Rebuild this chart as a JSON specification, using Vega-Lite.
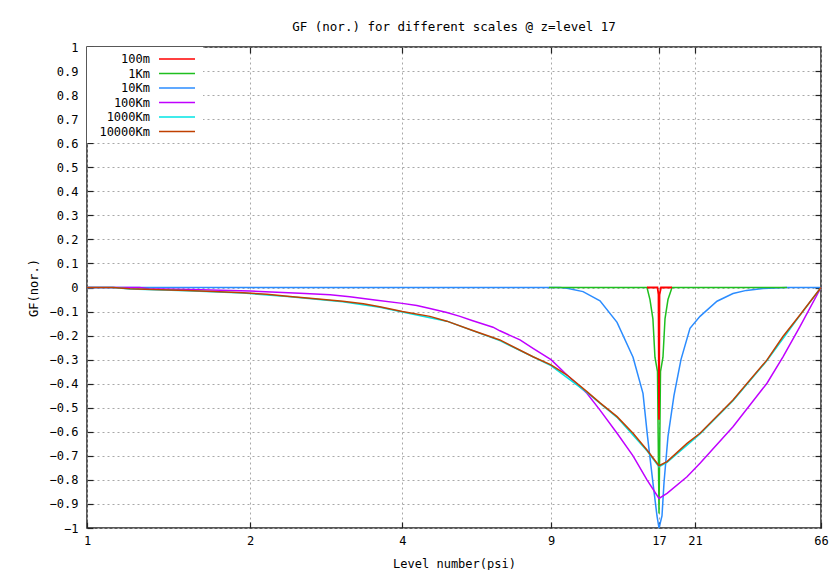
{
  "$schema": "https://vega.github.io/schema/vega-lite/v6.json",
  "width": 734,
  "height": 481,
  "autosize": {"type": "none"},
  "padding": {"left": 87, "top": 47, "right": 19, "bottom": 42},
  "background": "white",
  "title": {"text": "GF (nor.) for different scales @ z=level 17", "font": "DejaVu Sans Mono", "fontSize": 12.5, "fontWeight": "normal", "color": "#000", "anchor": "middle", "offset": 8},
  "datasets": {
    "curves": [
      {"s": "10Km", "x": 1, "y": 0}, {"s": "10Km", "x": 9.49, "y": 0}, {"s": "10Km", "x": 9.89, "y": -0.003}, {"s": "10Km", "x": 10.87, "y": -0.017}, {"s": "10Km", "x": 12.01, "y": -0.055}, {"s": "10Km", "x": 13.28, "y": -0.145}, {"s": "10Km", "x": 14.59, "y": -0.29}, {"s": "10Km", "x": 15.47, "y": -0.44}, {"s": "10Km", "x": 15.89, "y": -0.62}, {"s": "10Km", "x": 16.4, "y": -0.81}, {"s": "10Km", "x": 16.8, "y": -0.95}, {"s": "10Km", "x": 17, "y": -1}, {"s": "10Km", "x": 17.3, "y": -0.95}, {"s": "10Km", "x": 17.51, "y": -0.81}, {"s": "10Km", "x": 17.92, "y": -0.62}, {"s": "10Km", "x": 18.56, "y": -0.45}, {"s": "10Km", "x": 19.34, "y": -0.3}, {"s": "10Km", "x": 20.39, "y": -0.17}, {"s": "10Km", "x": 21.98, "y": -0.12}, {"s": "10Km", "x": 25.65, "y": -0.057}, {"s": "10Km", "x": 29.66, "y": -0.025}, {"s": "10Km", "x": 33.5, "y": -0.012}, {"s": "10Km", "x": 38.96, "y": -0.004}, {"s": "10Km", "x": 48.45, "y": 0}, {"s": "10Km", "x": 66, "y": 0},
      {"s": "1Km", "x": 8.9, "y": 0}, {"s": "1Km", "x": 15.84, "y": 0}, {"s": "1Km", "x": 16.12, "y": -0.05}, {"s": "1Km", "x": 16.4, "y": -0.13}, {"s": "1Km", "x": 16.6, "y": -0.29}, {"s": "1Km", "x": 16.85, "y": -0.35}, {"s": "1Km", "x": 17, "y": -0.94}, {"s": "1Km", "x": 17.15, "y": -0.35}, {"s": "1Km", "x": 17.4, "y": -0.29}, {"s": "1Km", "x": 17.61, "y": -0.13}, {"s": "1Km", "x": 17.92, "y": -0.05}, {"s": "1Km", "x": 18.35, "y": 0}, {"s": "1Km", "x": 48.45, "y": 0},
      {"s": "100m", "x": 15.84, "y": 0}, {"s": "100m", "x": 16.85, "y": 0}, {"s": "100m", "x": 16.95, "y": -0.03}, {"s": "100m", "x": 17, "y": -0.55}, {"s": "100m", "x": 17.05, "y": -0.03}, {"s": "100m", "x": 17.2, "y": 0}, {"s": "100m", "x": 18.35, "y": 0},
      {"s": "100Km", "x": 1, "y": 0}, {"s": "100Km", "x": 1.25, "y": 0}, {"s": "100Km", "x": 1.3, "y": -0.005}, {"s": "100Km", "x": 1.62, "y": -0.009}, {"s": "100Km", "x": 2, "y": -0.015}, {"s": "100Km", "x": 2.51, "y": -0.024}, {"s": "100Km", "x": 2.88, "y": -0.03}, {"s": "100Km", "x": 3.15, "y": -0.038}, {"s": "100Km", "x": 3.53, "y": -0.052}, {"s": "100Km", "x": 4, "y": -0.066}, {"s": "100Km", "x": 4.33, "y": -0.075}, {"s": "100Km", "x": 4.65, "y": -0.087}, {"s": "100Km", "x": 5.1, "y": -0.104}, {"s": "100Km", "x": 5.48, "y": -0.12}, {"s": "100Km", "x": 5.85, "y": -0.137}, {"s": "100Km", "x": 6.56, "y": -0.165}, {"s": "100Km", "x": 6.81, "y": -0.18}, {"s": "100Km", "x": 7.6, "y": -0.218}, {"s": "100Km", "x": 8.16, "y": -0.253}, {"s": "100Km", "x": 9, "y": -0.3}, {"s": "100Km", "x": 9.89, "y": -0.364}, {"s": "100Km", "x": 11.12, "y": -0.44}, {"s": "100Km", "x": 12.01, "y": -0.51}, {"s": "100Km", "x": 13.28, "y": -0.606}, {"s": "100Km", "x": 14.59, "y": -0.7}, {"s": "100Km", "x": 15.84, "y": -0.8}, {"s": "100Km", "x": 17, "y": -0.877}, {"s": "100Km", "x": 17.82, "y": -0.856}, {"s": "100Km", "x": 20.04, "y": -0.787}, {"s": "100Km", "x": 21.98, "y": -0.731}, {"s": "100Km", "x": 29.66, "y": -0.579}, {"s": "100Km", "x": 40.4, "y": -0.398}, {"s": "100Km", "x": 46.72, "y": -0.288}, {"s": "100Km", "x": 54.5, "y": -0.163}, {"s": "100Km", "x": 66, "y": 0},
      {"s": "1000Km", "x": 1, "y": 0}, {"s": "1000Km", "x": 1.117, "y": 0}, {"s": "1000Km", "x": 1.2, "y": -0.006}, {"s": "1000Km", "x": 1.53, "y": -0.013}, {"s": "1000Km", "x": 1.94, "y": -0.023}, {"s": "1000Km", "x": 2.37, "y": -0.037}, {"s": "1000Km", "x": 3.05, "y": -0.059}, {"s": "1000Km", "x": 3.61, "y": -0.082}, {"s": "1000Km", "x": 4, "y": -0.102}, {"s": "1000Km", "x": 5.1, "y": -0.14}, {"s": "1000Km", "x": 6.81, "y": -0.221}, {"s": "1000Km", "x": 9, "y": -0.325}, {"s": "1000Km", "x": 11.12, "y": -0.436}, {"s": "1000Km", "x": 13.28, "y": -0.54}, {"s": "1000Km", "x": 15.84, "y": -0.679}, {"s": "1000Km", "x": 17, "y": -0.745}, {"s": "1000Km", "x": 17.82, "y": -0.727}, {"s": "1000Km", "x": 21.98, "y": -0.609}, {"s": "1000Km", "x": 29.66, "y": -0.471}, {"s": "1000Km", "x": 40.4, "y": -0.304}, {"s": "1000Km", "x": 54.5, "y": -0.116}, {"s": "1000Km", "x": 66, "y": 0},
      {"s": "10000Km", "x": 1, "y": 0}, {"s": "10000Km", "x": 1.117, "y": 0}, {"s": "10000Km", "x": 1.2, "y": -0.005}, {"s": "10000Km", "x": 1.324, "y": -0.008}, {"s": "10000Km", "x": 1.53, "y": -0.012}, {"s": "10000Km", "x": 1.71, "y": -0.017}, {"s": "10000Km", "x": 1.94, "y": -0.022}, {"s": "10000Km", "x": 2.16, "y": -0.028}, {"s": "10000Km", "x": 2.37, "y": -0.036}, {"s": "10000Km", "x": 2.66, "y": -0.046}, {"s": "10000Km", "x": 3.05, "y": -0.057}, {"s": "10000Km", "x": 3.35, "y": -0.068}, {"s": "10000Km", "x": 3.61, "y": -0.08}, {"s": "10000Km", "x": 4, "y": -0.1}, {"s": "10000Km", "x": 4.65, "y": -0.12}, {"s": "10000Km", "x": 5.1, "y": -0.14}, {"s": "10000Km", "x": 5.85, "y": -0.178}, {"s": "10000Km", "x": 6.81, "y": -0.218}, {"s": "10000Km", "x": 8.16, "y": -0.288}, {"s": "10000Km", "x": 9, "y": -0.322}, {"s": "10000Km", "x": 9.89, "y": -0.364}, {"s": "10000Km", "x": 11.12, "y": -0.433}, {"s": "10000Km", "x": 12.01, "y": -0.48}, {"s": "10000Km", "x": 13.28, "y": -0.537}, {"s": "10000Km", "x": 14.59, "y": -0.606}, {"s": "10000Km", "x": 15.84, "y": -0.676}, {"s": "10000Km", "x": 17, "y": -0.741}, {"s": "10000Km", "x": 17.82, "y": -0.724}, {"s": "10000Km", "x": 20.04, "y": -0.648}, {"s": "10000Km", "x": 21.98, "y": -0.606}, {"s": "10000Km", "x": 29.66, "y": -0.468}, {"s": "10000Km", "x": 40.4, "y": -0.301}, {"s": "10000Km", "x": 46.72, "y": -0.204}, {"s": "10000Km", "x": 54.5, "y": -0.114}, {"s": "10000Km", "x": 66, "y": 0}
    ]
  },
  "data": {"name": "curves"},
  "layer": [
    {
      "encoding": {
        "x": {"field": "x", "type": "quantitative",
          "scale": {"type": "log", "domain": [1, 2, 4, 9, 17, 21, 66], "range": [0, 163, 315.3, 464, 572, 608, 734], "nice": false},
          "axis": {"title": "Level number(psi)", "values": [1, 2, 4, 9, 17, 21, 66], "format": "d", "labelFlush": false, "labelOverlap": false, "grid": true, "domain": false, "tickSize": -6, "labelPadding": 13, "titlePadding": 12}},
        "y": {"field": "y", "type": "quantitative",
          "scale": {"domain": [-1, 1], "nice": false, "zero": false},
          "axis": {"title": "GF(nor.)", "values": [-1, -0.9, -0.8, -0.7, -0.6, -0.5, -0.4, -0.3, -0.2, -0.1, 0, 0.1, 0.2, 0.3, 0.4, 0.5, 0.6, 0.7, 0.8, 0.9, 1], "format": ".1~f", "grid": true, "domain": false, "tickSize": -6, "labelPadding": 15, "titlePadding": 9}},
        "color": {"field": "s", "type": "nominal",
          "scale": {"domain": ["100m", "1Km", "10Km", "100Km", "1000Km", "10000Km"], "range": ["#ff0000", "#1fbf1f", "#2b8cff", "#c000ff", "#00e5e5", "#c04000"]},
          "legend": {"orient": "none", "legendX": 0, "legendY": 0, "title": null, "fillColor": "white", "padding": 5, "symbolType": "M-3,0H3", "symbolSize": 144, "symbolStrokeWidth": 1.5, "symbolOffset": 78, "labelOffset": -34, "labelAlign": "right", "labelFont": "DejaVu Sans Mono", "labelFontSize": 12, "labelColor": "#000", "rowPadding": 1.5}}
      },
      "layer": [
        {"transform": [{"filter": "datum.s === '10Km'"}], "mark": {"type": "line", "strokeWidth": 1.5}},
        {"transform": [{"filter": "datum.s === '1Km'"}], "mark": {"type": "line", "strokeWidth": 1.5}},
        {"transform": [{"filter": "datum.s === '100m'"}], "mark": {"type": "line", "strokeWidth": 1.8}},
        {"transform": [{"filter": "datum.s === '100Km'"}], "mark": {"type": "line", "strokeWidth": 1.5}},
        {"transform": [{"filter": "datum.s === '1000Km'"}], "mark": {"type": "line", "strokeWidth": 1.5}},
        {"transform": [{"filter": "datum.s === '10000Km'"}], "mark": {"type": "line", "strokeWidth": 1.5}}
      ]
    },
    {
      "mark": {"type": "point", "opacity": 0},
      "encoding": {
        "x": {"field": "x", "type": "quantitative",
          "axis": {"orient": "top", "title": null, "values": [2, 4, 9, 17, 21], "labels": false, "grid": false, "domain": false, "tickSize": -6}},
        "y": {"field": "y", "type": "quantitative",
          "axis": {"orient": "right", "title": null, "values": [-0.9, -0.8, -0.7, -0.6, -0.5, -0.4, -0.3, -0.2, -0.1, 0, 0.1, 0.2, 0.3, 0.4, 0.5, 0.6, 0.7, 0.8, 0.9], "labels": false, "grid": false, "domain": false, "tickSize": -6}}
      }
    }
  ],
  "resolve": {"axis": {"x": "independent", "y": "independent"}},
  "config": {
    "font": "DejaVu Sans Mono",
    "view": {"stroke": "#222", "strokeWidth": 1.5},
    "axis": {"labelFont": "DejaVu Sans Mono", "titleFont": "DejaVu Sans Mono", "labelFontSize": 12, "titleFontSize": 12, "titleFontWeight": "normal", "labelColor": "#000", "titleColor": "#000", "tickColor": "#222", "tickWidth": 1.2, "gridColor": "#a8a8a8", "gridDash": [2, 3], "gridWidth": 1, "gridOpacity": 1}
  }
}
